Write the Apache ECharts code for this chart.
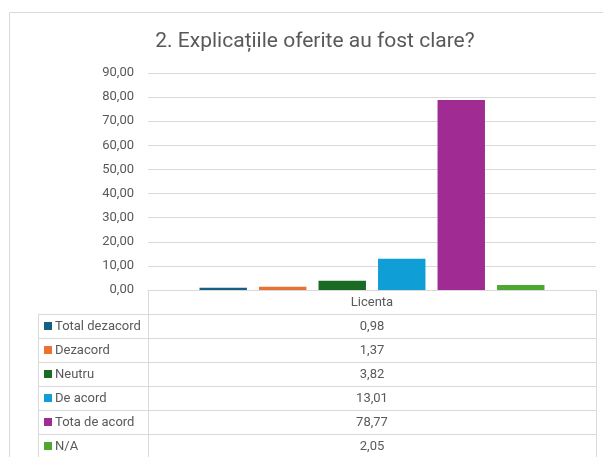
<!DOCTYPE html>
<html>
<head>
<meta charset="utf-8">
<script src="https://cdn.jsdelivr.net/npm/echarts@6/dist/echarts.min.js"></script>
<style>
    html, body { margin: 0; padding: 0; background: #fff; }
    #chart { width: 603px; height: 457px; }
</style>
</head>
<body>
<div id="chart"></div>
<script>
// date
const categories = ['Licenta'];
const seriesNames = ['Total dezacord', 'Dezacord', 'Neutru', 'De acord', 'Tota de acord', 'N/A'];
const seriesValues = [0.98, 1.37, 3.82, 13.01, 78.77, 2.05];
const seriesColors = ['#156082', '#E97132', '#196B24', '#0F9ED5', '#A02B93', '#4EA72E'];
const yTicks = [0, 10, 20, 30, 40, 50, 60, 70, 80, 90];

const fontFamily = 'Roboto, "Noto Sans", sans-serif';
const textColor = '#595959';
const lineColor = '#d9d9d9';
const labelSize = 13;

// tabelul de date de sub grafic
const gridLeft = 148, gridRight = 596, gridBottomY = 290;
const tableLeft = 38, rowH = 24, headerH = 24;
const fmt = v => v.toFixed(2).replace('.', ',');

function buildTable() {
    const els = [];
    // cadrul exterior al graficului
    els.push({ type: 'rect', shape: { x: 9.5, y: 12.5, width: 700, height: 600 },
        style: { fill: 'none', stroke: lineColor, lineWidth: 1 }, silent: true });
    const tableBottom = 470;
    // linii verticale
    [[gridLeft, gridBottomY], [gridRight, gridBottomY], [tableLeft, gridBottomY + headerH]].forEach(function (p) {
        els.push({ type: 'line', shape: { x1: p[0] + 0.5, y1: p[1], x2: p[0] + 0.5, y2: tableBottom },
            style: { stroke: lineColor, lineWidth: 1 }, silent: true });
    });
    seriesNames.forEach(function (name, i) {
        const y0 = gridBottomY + headerH + i * rowH;
        els.push({ type: 'line', shape: { x1: tableLeft, y1: y0 + 0.5, x2: gridRight + 1, y2: y0 + 0.5 },
            style: { stroke: lineColor, lineWidth: 1 }, silent: true });
        els.push({ type: 'rect', shape: { x: 44, y: y0 + 8, width: 8, height: 8 },
            style: { fill: seriesColors[i] }, silent: true });
        els.push({ type: 'text', x: 55, y: y0 + 12.5,
            style: { text: name, fill: textColor, font: labelSize + 'px ' + fontFamily, verticalAlign: 'middle' }, silent: true });
        els.push({ type: 'text', x: (gridLeft + gridRight) / 2, y: y0 + 12.5,
            style: { text: fmt(seriesValues[i]), fill: textColor, font: labelSize + 'px ' + fontFamily,
                align: 'center', verticalAlign: 'middle' }, silent: true });
    });
    return els;
}

const chart = echarts.init(document.getElementById('chart'));
chart.setOption({
    animation: false,
    backgroundColor: '#fff',
    title: {
        text: '2. Explicațiile oferite au fost clare?',
        left: 310, top: 26, textAlign: 'center',
        textStyle: { fontFamily: fontFamily, fontSize: 21, fontWeight: 'normal', color: textColor }
    },
    grid: { left: gridLeft, right: 603 - gridRight, top: 73, bottom: 457 - gridBottomY },
    xAxis: {
        type: 'category',
        data: categories,
        axisLine: { show: true, lineStyle: { color: lineColor } },
        axisTick: { show: false },
        axisLabel: { margin: 6, color: textColor, fontFamily: fontFamily, fontSize: labelSize }
    },
    yAxis: {
        type: 'value',
        min: yTicks[0], max: yTicks[yTicks.length - 1], interval: 10,
        axisLine: { show: false },
        axisTick: { show: false },
        splitLine: { lineStyle: { color: lineColor } },
        axisLabel: { margin: 14, color: textColor, fontFamily: fontFamily, fontSize: labelSize,
            formatter: v => fmt(v) }
    },
    series: seriesNames.map(function (name, i) {
        return {
            name: name,
            type: 'bar',
            data: [seriesValues[i]],
            barGap: '25.5%',
            barCategoryGap: '23%',
            itemStyle: { color: seriesColors[i] }
        };
    }),
    graphic: buildTable()
});
</script>
</body>
</html>
